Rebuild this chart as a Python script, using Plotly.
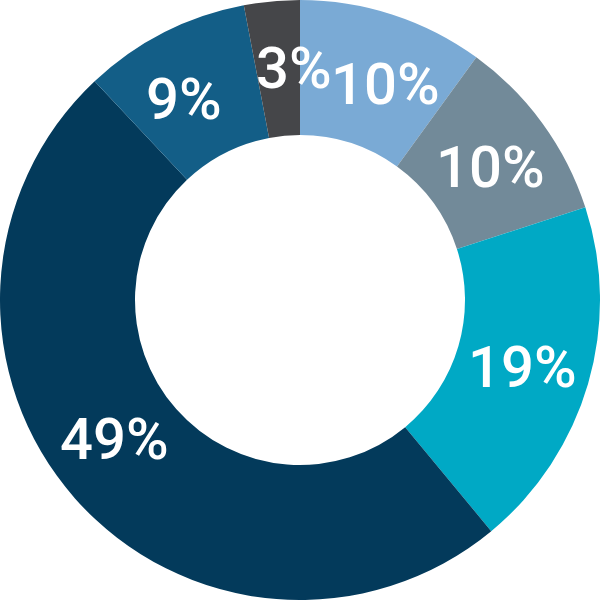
import numpy as np
import plotly.graph_objects as go

# slice shares, clockwise from 12 o'clock
labels = ["A", "B", "C", "D", "E", "F"]
values = [10, 10, 19, 49, 9, 3]
colors = ["#7aaad5", "#728a99", "#00a9c5", "#033a5b", "#135e87", "#454649"]

fig = go.Figure()
fig.add_trace(
    go.Pie(
        labels=labels,
        values=values,
        hole=0.55,
        sort=False,
        direction="clockwise",
        rotation=0,
        marker=dict(colors=colors, line=dict(width=0)),
        textinfo="none",
        hoverinfo="skip",
        showlegend=False,
        domain=dict(x=[0, 1], y=[0, 1]),
    )
)

# percent labels placed around the middle of each ring segment
# (small angular nudges so the narrow slices' labels don't collide)
total = sum(values)
cum = np.cumsum([0] + values[:-1])
nudge_deg = [3.5, 1, 0.5, 4.5, -3, 4]
r_lab = 232 / 600  # label radius as a fraction of the figure width
for v, c, d in zip(values, cum, nudge_deg):
    theta = 2 * np.pi * (c + v / 2) / total + np.radians(d)
    fig.add_annotation(
        x=0.5 + r_lab * np.sin(theta),
        y=0.5 + r_lab * np.cos(theta),
        xref="paper", yref="paper",
        xanchor="center", yanchor="middle",
        text=f"{round(100 * v / total)}%",
        showarrow=False,
        font=dict(family="Roboto", size=58, color="white", weight=500),
    )

fig.update_layout(
    width=600, height=600,
    margin=dict(l=0, r=0, t=0, b=0),
    paper_bgcolor="white",
    plot_bgcolor="white",
)

# drop the browser's default body margin so the figure sits at 0,0
fig.write_html(
    "out.html",
    config={"displayModeBar": False},
    post_script="document.body.style.margin='0';",
)
